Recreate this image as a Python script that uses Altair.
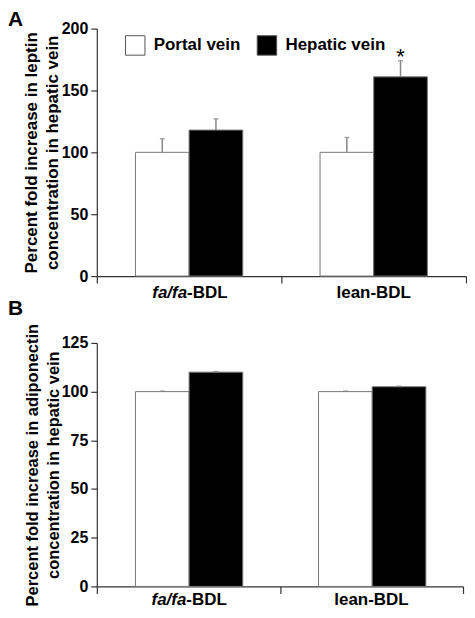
import altair as alt
import pandas as pd

groups = ["fa/fa-BDL", "lean-BDL"]
series = ["Portal vein", "Hepatic vein"]
panel_letters = ["A", "B"]

leptin_mean = [100, 118, 100, 161]
leptin_upper = [111, 127, 112, 174]
leptin_star = ["", "", "", "*"]

adipo_mean = [100, 110, 100, 102.5]
adipo_upper = [100.3, 110.3, 100.3, 102.8]
adipo_star = ["", "", "", ""]

title_a = ["Percent fold increase in leptin", "concentration in hepatic vein"]
title_b = ["Percent fold increase in adiponectin", "concentration in hepatic vein"]

label_pieces = pd.DataFrame({
    "group": ["fa/fa-BDL", "fa/fa-BDL", "lean-BDL"],
    "text": ["fa/fa", "-BDL", "lean-BDL"],
    "kind": ["italic", "right", "center"],
})

FONT = "Liberation Sans"
AX = "#333"


def make_df(means, uppers, stars):
    rows = []
    i = 0
    for g in groups:
        for s in series:
            rows.append({"group": g, "series": s, "mean": means[i],
                         "upper": uppers[i], "star": stars[i]})
            i += 1
    return pd.DataFrame(rows)


def panel(df, ymax, ystep, title_lines, title_size, w, h, lx, ly, colpad, lab_dy,
          letter, next_letter=None, next_dy=0):
    x = alt.X("group:N", sort=groups,
              scale=alt.Scale(paddingInner=0, paddingOuter=0),
              axis=alt.Axis(title=None, labels=False, tickBand="extent", tickSize=7,
                            domainColor=AX, tickColor=AX, domainWidth=1.2, tickWidth=1.2))
    xo = alt.XOffset("series:N", sort=series,
                     scale=alt.Scale(paddingOuter=0.72, paddingInner=0))
    y = alt.Y("mean:Q", scale=alt.Scale(domain=[0, ymax], nice=False),
              axis=alt.Axis(values=list(range(0, ymax + 1, ystep)), title=title_lines,
                            grid=False, tickSize=6, labelPadding=3,
                            labelFont=FONT, labelFontSize=16, labelFontWeight="bold",
                            labelColor="black", domainColor=AX, tickColor=AX,
                            domainWidth=1.2, tickWidth=1.2,
                            titleFont=FONT, titleFontSize=title_size, titleFontWeight="bold",
                            titleColor="black", titleLineHeight=21, titlePadding=0))
    fill = alt.Fill("series:N", sort=series,
                    scale=alt.Scale(domain=series, range=["white", "black"]),
                    legend=alt.Legend(orient="none", legendX=lx, legendY=ly,
                                      direction="horizontal", title=None,
                                      symbolType="square", symbolSize=380,
                                      symbolStrokeColor="#555", symbolStrokeWidth=1,
                                      symbolOpacity=1, labelFont=FONT, labelFontSize=17,
                                      labelFontWeight="bold", labelColor="black",
                                      labelOffset=8, columnPadding=colpad))
    bars = alt.Chart(df).mark_bar(stroke="#777", strokeWidth=1, opacity=1).encode(
        x=x, xOffset=xo, y=y, fill=fill)
    err = alt.Chart(df).mark_rule(color="#888", strokeWidth=1.5).encode(
        x=x, xOffset=xo, y=y, y2="upper:Q")
    cap = alt.Chart(df).mark_tick(color="#888", thickness=1.5, size=5,
                                  orient="horizontal").encode(
        x=x, xOffset=xo, y=alt.Y("upper:Q"))
    star = alt.Chart(df).transform_filter("datum.star != ''").mark_text(
        font=FONT, fontSize=22, color="black", baseline="alphabetic", dy=3).encode(
        x=x, xOffset=xo, y=alt.Y("upper:Q"), text="star:N")

    lab_common = dict(font=FONT, fontSize=17, fontWeight="bold", color="black",
                      baseline="alphabetic")
    lab_it = alt.Chart(label_pieces).transform_filter("datum.kind == 'italic'").mark_text(
        fontStyle="italic", align="right", dx=-2, **lab_common).encode(
        x=x, y=alt.value(h + lab_dy), text="text:N")
    lab_r = alt.Chart(label_pieces).transform_filter("datum.kind == 'right'").mark_text(
        align="left", dx=-2, **lab_common).encode(
        x=x, y=alt.value(h + lab_dy), text="text:N")
    lab_c = alt.Chart(label_pieces).transform_filter("datum.kind == 'center'").mark_text(
        align="center", **lab_common).encode(
        x=x, y=alt.value(h + lab_dy), text="text:N")

    layers = [bars, err, cap, star, lab_it, lab_r, lab_c]
    if letter:
        layers.append(alt.Chart(pd.DataFrame({"t": [letter]})).mark_text(
            font=FONT, fontSize=21, fontWeight="bold", color="black",
            align="left", baseline="top").encode(
            text="t:N", x=alt.value(-89), y=alt.value(-20)))
    if next_letter:
        layers.append(alt.Chart(pd.DataFrame({"t": [next_letter]})).mark_text(
            font=FONT, fontSize=21, fontWeight="bold", color="black",
            align="left", baseline="alphabetic").encode(
            text="t:N", x=alt.value(-89), y=alt.value(h + next_dy)))
    return alt.layer(*layers).properties(width=w, height=h)


df_a = make_df(leptin_mean, leptin_upper, leptin_star)
df_b = make_df(adipo_mean, adipo_upper, adipo_star)

chart_a = panel(df_a, 200, 50, title_a, 17, 370, 248, 28, 6, 14, 22,
                panel_letters[0], panel_letters[1], 39)
chart_b = panel(df_b, 125, 25, title_b, 16.5, 367, 244, 33, 1, 18, 19, None)

chart = alt.vconcat(chart_a, chart_b, spacing=4).configure_view(stroke=None).properties(padding=0)

chart.save("out.html", embed_options={"renderer": "svg", "actions": False})
